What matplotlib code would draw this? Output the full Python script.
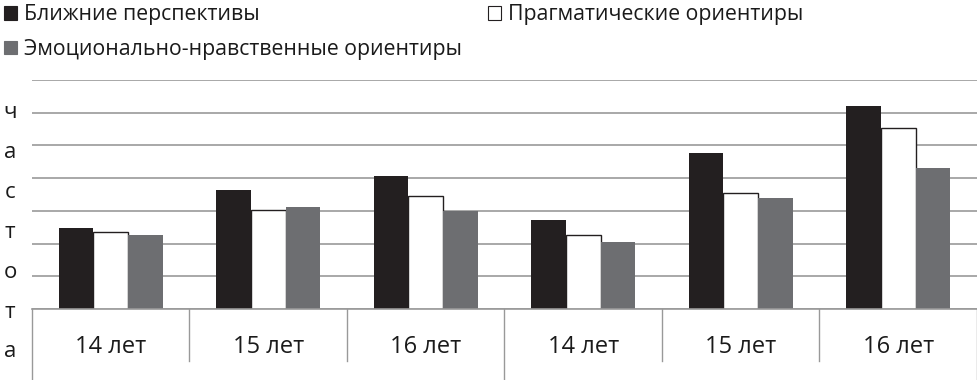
import matplotlib.pyplot as plt
import numpy as np
from matplotlib.patches import Patch
from matplotlib.transforms import blended_transform_factory

plt.rcParams['font.family'] = ['Open Sans', 'DejaVu Sans']

# values (one unit = one gridline step, axis has no numbers)
categories = ["14 лет", "15 лет", "16 лет", "14 лет", "15 лет", "16 лет"]
near_prospects = [2.48, 3.63, 4.08, 2.71, 4.76, 6.22]
pragmatic = [2.35, 3.04, 3.44, 2.25, 3.54, 5.54]
emotional = [2.25, 3.13, 2.99, 2.04, 3.38, 4.31]
series_names = ["Ближние перспективы", "Прагматические ориентиры",
                "Эмоционально-нравственные ориентиры"]
y_title = "частота"

black = '#231f20'
grey = '#6d6e71'
line_grey = '#999999'

fig = plt.figure(figsize=(9.78, 3.8), dpi=100)
ax = fig.add_axes([32 / 978, 1 - 309 / 380, 945 / 978, 229 / 380])

x = np.arange(len(categories))
w = 0.22
b1 = ax.bar(x - w, near_prospects, w, color=black, linewidth=0)
b2 = ax.bar(x, pragmatic, w, color='white', edgecolor=black, linewidth=1)
b3 = ax.bar(x + w, emotional, w, color=grey, linewidth=0)

ax.set_xlim(-0.5, len(categories) - 0.5)
ax.set_ylim(0, 7)
ax.set_yticks(np.arange(0, 8))
ax.set_yticklabels([])
ax.tick_params(axis='y', length=0)
ax.yaxis.grid(True, color=line_grey, linewidth=1.2)
ax.set_axisbelow(True)
for s in ['top', 'right', 'left']:
    ax.spines[s].set_visible(False)
ax.spines['bottom'].set_color(line_grey)
ax.spines['bottom'].set_linewidth(1.2)

ax.set_xticks(x)
ax.set_xticklabels(categories, fontsize=17, color='#1a1a1a')
ax.tick_params(axis='x', length=0, pad=19)

# table-like category axis below the plot
tr = blended_transform_factory(ax.transData, ax.transAxes)
for i in range(len(categories) + 1):
    xpos = i - 0.5
    depth = -0.31 if i in (0, 3, 6) else -0.227
    ax.plot([xpos, xpos], [0, depth], color=line_grey, linewidth=1,
            transform=tr, clip_on=False)

# vertical axis title, one letter per line
for k, ch in enumerate(y_title):
    fig.text(10 / 978, 1 - (113 + k * 39.8) / 380, ch, fontsize=16,
             ha='center', va='center', color='#1a1a1a')

handles = [Patch(facecolor=black, edgecolor=black, linewidth=0.8),
           Patch(facecolor=grey, edgecolor=grey, linewidth=0.8),
           Patch(facecolor='white', edgecolor=black, linewidth=0.8)]
labels = [series_names[0], series_names[2], series_names[1]]
fig.legend(handles, labels, loc='upper left', bbox_to_anchor=(0.0, 1.0),
           ncol=2, frameon=False, fontsize=15.3, borderpad=0.1,
           handlelength=0.6, handleheight=0.6, handletextpad=0.35,
           columnspacing=1.2, labelspacing=0.65, borderaxespad=0.1,
           labelcolor='#1a1a1a')

fig.savefig('out.png', dpi=100)
